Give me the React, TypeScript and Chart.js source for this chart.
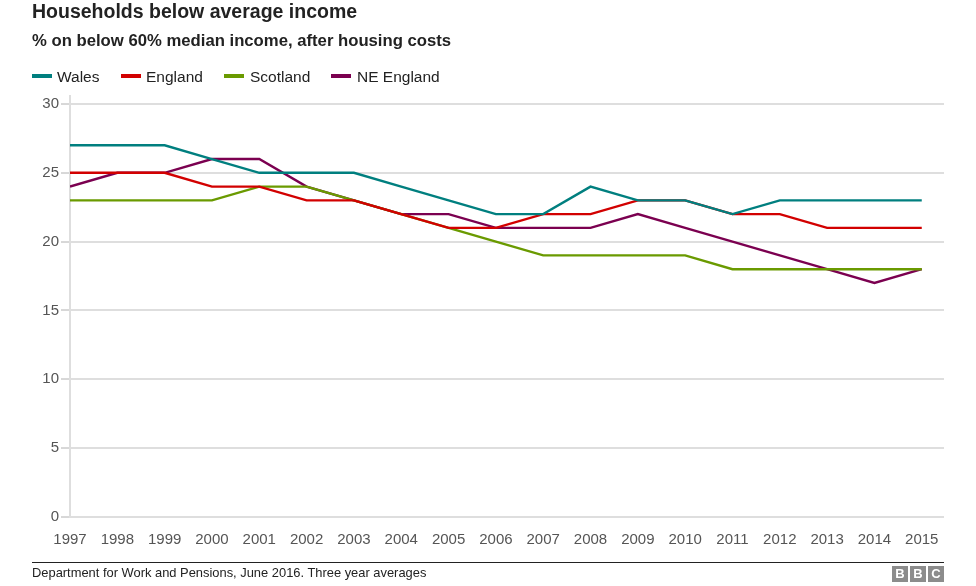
import React, { useEffect, useRef } from "react";
import { Chart, registerables } from "chart.js";

Chart.register(...registerables);

const years = [1997, 1998, 1999, 2000, 2001, 2002, 2003, 2004, 2005, 2006, 2007, 2008, 2009, 2010, 2011, 2012, 2013, 2014, 2015];
const wales = [27, 27, 27, 26, 25, 25, 25, 24, 23, 22, 22, 24, 23, 23, 22, 23, 23, 23, 23];
const england = [25, 25, 25, 24, 24, 23, 23, 22, 21, 21, 22, 22, 23, 23, 22, 22, 21, 21, 21];
const scotland = [23, 23, 23, 23, 24, 24, 23, 22, 21, 20, 19, 19, 19, 19, 18, 18, 18, 18, 18];
const neEngland = [24, 25, 25, 26, 26, 24, 23, 22, 22, 21, 21, 21, 22, 21, 20, 19, 18, 17, 18];

const seriesNames = ["Wales", "England", "Scotland", "NE England"];
const seriesColors = ["#007f7f", "#d20000", "#6a9a00", "#7b0050"];
const seriesValues = [wales, england, scotland, neEngland];

const FONT = "'Liberation Sans', Arial, Helvetica, sans-serif";

export default function App() {
  const canvasRef = useRef<HTMLCanvasElement | null>(null);

  useEffect(() => {
    document.body.style.margin = "0";
    const canvas = canvasRef.current;
    if (!canvas) return;
    const chart = new Chart(canvas, {
      type: "line",
      data: {
        datasets: seriesNames.map((name, si) => ({
          label: name,
          data: years.map((yr, i) => ({ x: yr, y: seriesValues[si][i] })),
          borderColor: seriesColors[si],
          backgroundColor: seriesColors[si],
          borderWidth: 2.4,
          pointRadius: 0,
          pointHoverRadius: 0,
          tension: 0,
          fill: false,
        })),
      },
      options: {
        responsive: false,
        animation: false,
        events: [],
        layout: { padding: { left: 0, top: 96, right: 32, bottom: 19 } },
        plugins: {
          legend: { display: false },
          tooltip: { enabled: false },
          title: { display: false },
        },
        scales: {
          x: {
            type: "linear",
            min: 1997,
            max: 2015.47,
            grid: { display: false },
            border: { display: false },
            ticks: {
              stepSize: 1,
              includeBounds: false,
              autoSkip: false,
              maxRotation: 0,
              color: "#555",
              padding: 6,
              font: { family: FONT, size: 15 },
              callback: (v: any) => (Number.isInteger(v) ? String(v) : ""),
            },
            afterFit: (s: any) => {
              s.height = 50;
            },
          },
          y: {
            min: 0,
            max: 30.58,
            grid: {
              color: "#dedede",
              lineWidth: 2,
              tickLength: 9,
              tickColor: "#b0b0b0",
              tickWidth: 1,
            },
            border: { color: "#dedede", width: 2 },
            ticks: {
              stepSize: 5,
              includeBounds: false,
              color: "#555",
              padding: 2,
              font: { family: FONT, size: 15 },
            },
            afterFit: (s: any) => {
              s.width = 70;
            },
          },
        },
      },
    });
    return () => chart.destroy();
  }, []);

  const legendSwatchLeft = [32, 121, 224, 331];
  const legendTextLeft = [57, 146, 250, 357];

  return (
    <div
      style={{
        position: "relative",
        width: 976,
        height: 586,
        background: "#fff",
        fontFamily: FONT,
        overflow: "hidden",
      }}
    >
      <canvas
        ref={canvasRef}
        width={976}
        height={586}
        style={{ position: "absolute", left: 0, top: 0, width: 976, height: 586 }}
      />
      <div
        style={{
          position: "absolute",
          left: 32,
          top: 2,
          fontSize: 19.5,
          lineHeight: "19.5px",
          fontWeight: "bold",
          color: "#222",
          whiteSpace: "nowrap",
        }}
      >
        Households below average income
      </div>
      <div
        style={{
          position: "absolute",
          left: 32,
          top: 33,
          fontSize: 16.7,
          lineHeight: "16.7px",
          fontWeight: "bold",
          color: "#222",
          whiteSpace: "nowrap",
        }}
      >
        % on below 60% median income, after housing costs
      </div>
      {seriesNames.map((name, i) => (
        <React.Fragment key={name}>
          <div
            style={{
              position: "absolute",
              left: legendSwatchLeft[i],
              top: 74,
              width: 20,
              height: 4,
              background: seriesColors[i],
            }}
          />
          <div
            style={{
              position: "absolute",
              left: legendTextLeft[i],
              top: 68.5,
              fontSize: 15.5,
              lineHeight: "15.5px",
              color: "#222",
              whiteSpace: "nowrap",
            }}
          >
            {name}
          </div>
        </React.Fragment>
      ))}
      <div
        style={{
          position: "absolute",
          left: 32,
          top: 562,
          width: 912,
          height: 1,
          background: "#222",
        }}
      />
      <div
        style={{
          position: "absolute",
          left: 32,
          top: 567,
          fontSize: 12.9,
          lineHeight: "12.9px",
          color: "#222",
          whiteSpace: "nowrap",
        }}
      >
        Department for Work and Pensions, June 2016. Three year averages
      </div>
      {["B", "B", "C"].map((ch, i) => (
        <div
          key={i}
          style={{
            position: "absolute",
            left: 892 + i * 18,
            top: 566,
            width: 16,
            height: 16,
            background: "#8c8c8c",
            color: "#fff",
            fontWeight: "bold",
            fontSize: 13,
            lineHeight: "16px",
            textAlign: "center",
          }}
        >
          {ch}
        </div>
      ))}
    </div>
  );
}
